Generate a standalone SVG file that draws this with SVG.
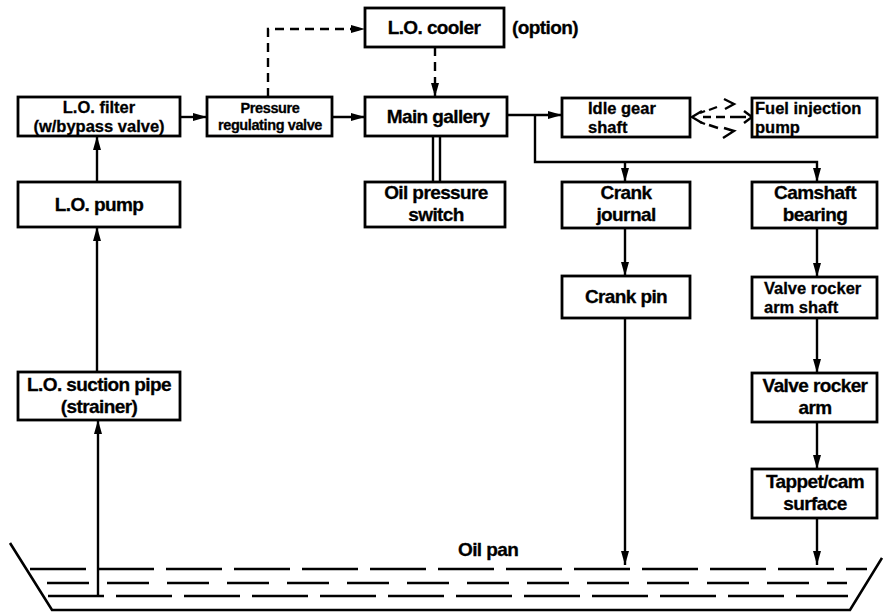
<svg xmlns="http://www.w3.org/2000/svg" width="883" height="613" viewBox="0 0 883 613">
<defs>
<style>
.box{fill:#fff;stroke:#000;stroke-width:2.8}
.t{font-family:"Liberation Sans",Arial,sans-serif;font-weight:bold;font-size:19px;fill:#000;letter-spacing:-0.6px;stroke:#000;stroke-width:0.3}
.m{font-size:16.5px;letter-spacing:0px}
.s{font-size:14.5px;letter-spacing:-0.4px}
.c{text-anchor:middle}
.ln{fill:none;stroke:#000;stroke-width:2.4}
.dl{fill:none;stroke:#000;stroke-width:2.4;stroke-dasharray:9 6}
.oil{fill:none;stroke:#000;stroke-width:2.6;stroke-dasharray:56 12}
</style>
<marker id="ah" viewBox="0 0 14 8" refX="14" refY="4" markerWidth="14" markerHeight="8" markerUnits="userSpaceOnUse" orient="auto">
<path d="M0,0 L14,4 L0,8 Z" fill="#000"/>
</marker>
</defs>

<g id="connectors">
<path class="ln" d="M98,596 V420" marker-end="url(#ah)"/>
<path class="ln" d="M97,372 V227" marker-end="url(#ah)"/>
<path class="ln" d="M97,182 V136" marker-end="url(#ah)"/>
<path class="ln" d="M180,117 H207" marker-end="url(#ah)"/>
<path class="ln" d="M332,117 H365" marker-end="url(#ah)"/>
<path class="dl" d="M268,97 V29 H365" marker-end="url(#ah)"/>
<path class="dl" d="M435,47 V97" marker-end="url(#ah)"/>
<path class="ln" d="M433,136 V182 M440,136 V182"/>
<path class="ln" d="M507,115 H562" marker-end="url(#ah)"/>
<path class="ln" d="M535,115 V162 H817 V182" marker-end="url(#ah)"/>
<path class="ln" d="M625,162 V182" marker-end="url(#ah)"/>
<path class="ln" d="M625,228 V276" marker-end="url(#ah)"/>
<path class="ln" d="M625,318 V565" marker-end="url(#ah)"/>
<path class="ln" d="M817,228 V277" marker-end="url(#ah)"/>
<path class="ln" d="M817,318 V373" marker-end="url(#ah)"/>
<path class="ln" d="M817,422 V469" marker-end="url(#ah)"/>
<path class="ln" d="M817,518 V565" marker-end="url(#ah)"/>
<!-- idle gear / fuel pump spray arrows -->
<path class="ln" d="M702,111 L692,117 L702,123"/>
<path class="ln" d="M700,113 L705,111 M709,110 L717,107 M700,122 L705,124 M709,125 L718,128 M703,117 L711,117 M716,117 L725,117 M730,117 L746,117" />
<path class="ln" d="M724,99 L734,104 L725,109 M744,111 L752,117 L744,123 M723,138 L734,131 L724,128"/>
</g>

<g id="n-filter"><rect class="box" x="18" y="97" width="162" height="39"/><text class="t m c" x="99" y="113">L.O. filter</text><text class="t m c" x="99" y="131.5">(w/bypass valve)</text></g>
<g id="n-prv"><rect class="box" x="207" y="97" width="125" height="39"/><text class="t s c" x="270" y="113">Pressure</text><text class="t s c" x="270" y="130">regulating valve</text></g>
<g id="n-cooler"><rect class="box" x="365" y="8" width="139" height="39"/><text class="t c" x="434" y="34">L.O. cooler</text></g>
<text class="t" x="512" y="34">(option)</text>
<g id="n-gallery"><rect class="box" x="365" y="97" width="142" height="39"/><text class="t c" x="438" y="123">Main gallery</text></g>
<g id="n-idle"><rect class="box" x="562" y="98" width="128" height="39"/><text class="t m" x="588" y="114">Idle gear</text><text class="t m" x="588" y="132.5">shaft</text></g>
<g id="n-fuel"><rect class="box" x="752" y="98" width="125" height="39"/><text class="t m" x="755" y="114">Fuel injection</text><text class="t m" x="755" y="132.5">pump</text></g>
<g id="n-ops"><rect class="box" x="365" y="182" width="140" height="45"/><text class="t c" x="436" y="198.5">Oil pressure</text><text class="t c" x="436" y="220.5">switch</text></g>
<g id="n-pump"><rect class="box" x="18" y="182" width="162" height="45"/><text class="t c" x="99" y="211">L.O. pump</text></g>
<g id="n-suction"><rect class="box" x="18" y="372" width="162" height="48"/><text class="t c" x="99" y="391">L.O. suction pipe</text><text class="t c" x="99" y="413">(strainer)</text></g>
<g id="n-journal"><rect class="box" x="562" y="182" width="128" height="46"/><text class="t c" x="626" y="199">Crank</text><text class="t c" x="626" y="221">journal</text></g>
<g id="n-pin"><rect class="box" x="562" y="276" width="128" height="42"/><text class="t c" x="626" y="303">Crank pin</text></g>
<g id="n-camshaft"><rect class="box" x="752" y="182" width="125" height="46"/><text class="t c" x="815" y="199">Camshaft</text><text class="t c" x="815" y="221">bearing</text></g>
<g id="n-rshaft"><rect class="box" x="752" y="277" width="125" height="41"/><text class="t m" x="764" y="294">Valve rocker</text><text class="t m" x="764" y="313">arm shaft</text></g>
<g id="n-rarm"><rect class="box" x="752" y="373" width="125" height="49"/><text class="t c" x="815" y="392">Valve rocker</text><text class="t c" x="815" y="414">arm</text></g>
<g id="n-tappet"><rect class="box" x="752" y="469" width="125" height="49"/><text class="t c" x="815" y="488">Tappet/cam</text><text class="t c" x="815" y="510">surface</text></g>

<g id="n-pan">
<polyline class="ln" points="10,543 52,610 850,610 882,558" style="stroke-width:2.6"/>
<path class="oil" d="M30,569 H867"/>
<path class="oil" d="M47,583 H847" style="stroke-dasharray:42 18"/>
<path class="oil" d="M48,596 H848"/>
<text class="t" x="458" y="556">Oil pan</text>
</g>
</svg>
